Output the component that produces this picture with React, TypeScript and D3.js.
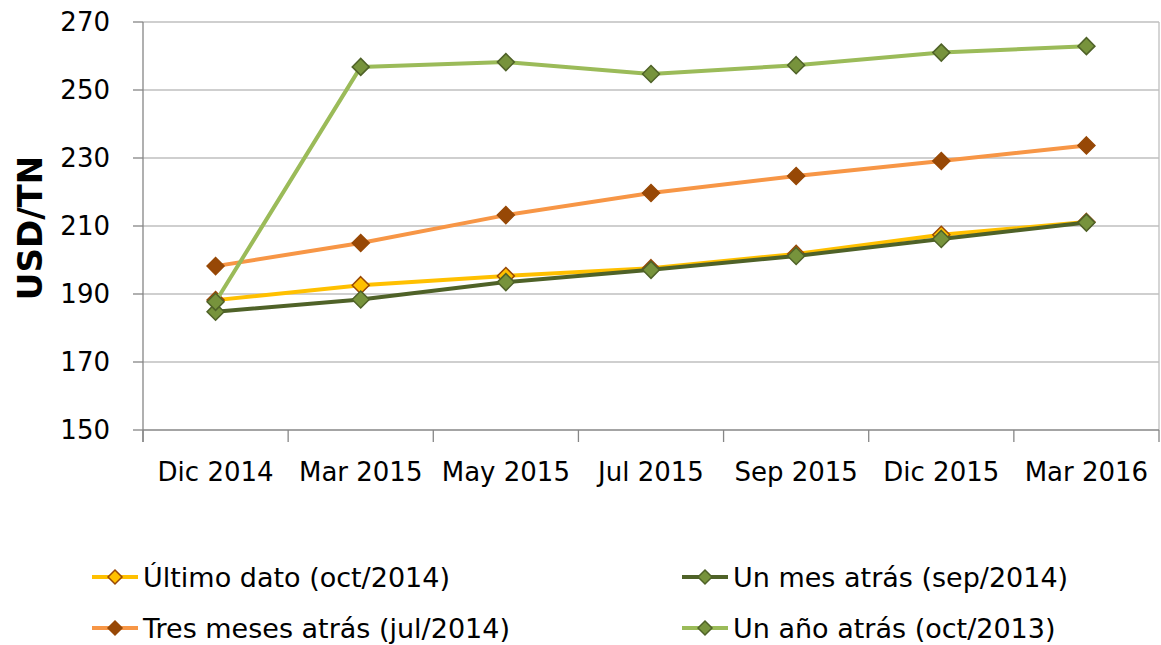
import * as d3 from "d3";

const categories = ["Dic 2014", "Mar 2015", "May 2015", "Jul 2015", "Sep 2015", "Dic 2015", "Mar 2016"];
const yTicks = [150, 170, 190, 210, 230, 250, 270];

const ultimoDato = [188.2, 192.6, 195.3, 197.6, 201.8, 207.4, 211.2];
const unMesAtras = [184.8, 188.4, 193.5, 197.1, 201.2, 206.2, 211.0];
const tresMesesAtras = [198.2, 205.0, 213.2, 219.7, 224.7, 229.1, 233.7];
const unAnoAtras = [187.7, 256.8, 258.2, 254.7, 257.3, 261.0, 262.9];

const series = [
  { name: "Último dato (oct/2014)", values: ultimoDato, line: "#FFC000", fill: "#FFC000", stroke: "#984807" },
  { name: "Un mes atrás (sep/2014)", values: unMesAtras, line: "#4F6228", fill: "#77933C", stroke: "#4F6228" },
  { name: "Tres meses atrás (jul/2014)", values: tresMesesAtras, line: "#F79646", fill: "#974806", stroke: "#974806" },
  { name: "Un año atrás (oct/2013)", values: unAnoAtras, line: "#9BBB59", fill: "#77933C", stroke: "#4F6228" },
];

const W = 1161, H = 645;
const left = 143, right = 1159, top = 22, bottom = 430;
const font = "DejaVu Sans";

function diamond(cx: number, cy: number, r: number) {
  return `M${cx},${cy - r}L${cx + r},${cy}L${cx},${cy + r}L${cx - r},${cy}Z`;
}

export default function App() {
  const x = d3.scaleBand().domain(categories).range([left, right]);
  const y = d3.scaleLinear().domain([150, 270]).range([bottom, top]);
  const cx = (i: number) => (x(categories[i]) as number) + x.bandwidth() / 2;
  const line = d3.line<number>().x((_, i) => cx(i)).y((d) => y(d));
  const bounds = categories.map((c) => x(c) as number).concat([right]);

  const legendPos = [
    { lx: 92, ly: 577 },
    { lx: 682, ly: 577 },
    { lx: 92, ly: 628 },
    { lx: 682, ly: 628 },
  ];

  return (
    <svg width={W} height={H} style={{ position: "absolute", left: 0, top: 0, background: "#fff" }} fontFamily={font}>
      {yTicks.map((t) => (
        <g key={t}>
          {t > 150 && <line x1={left} x2={right} y1={y(t)} y2={y(t)} stroke="#BFBFBF" strokeWidth={1.3} />}
          <line x1={left - 10} x2={left} y1={y(t)} y2={y(t)} stroke="#868686" strokeWidth={1.3} />
          <text x={110} y={y(t)} dy="0.36em" textAnchor="end" fontSize={26} fill="#000">{t}</text>
        </g>
      ))}
      <line x1={right} x2={right} y1={top} y2={bottom} stroke="#BFBFBF" strokeWidth={1.3} />
      <line x1={left} x2={left} y1={top} y2={bottom + 12} stroke="#868686" strokeWidth={1.3} />
      <line x1={left} x2={right} y1={bottom} y2={bottom} stroke="#868686" strokeWidth={1.3} />
      {bounds.map((b, i) => (
        <line key={i} x1={b} x2={b} y1={bottom} y2={bottom + 12} stroke="#868686" strokeWidth={1.3} />
      ))}
      {categories.map((c, i) => (
        <text key={c} x={cx(i)} y={472} dy="0.36em" textAnchor="middle" fontSize={26} fill="#000">{c}</text>
      ))}
      <text transform={`translate(30,${(top + bottom) / 2 + 2}) rotate(-90)`} textAnchor="middle" dy="0.36em"
        fontSize={34} fontWeight="bold" fill="#000">USD/TN</text>

      {series.map((s) => (
        <g key={s.name}>
          <path d={line(s.values) as string} fill="none" stroke={s.line} strokeWidth={4} strokeLinejoin="round" />
          {s.values.map((v, i) => (
            <path key={i} d={diamond(cx(i), y(v), 8.5)} fill={s.fill} stroke={s.stroke} strokeWidth={1.5} />
          ))}
        </g>
      ))}

      {series.map((s, i) => {
        const p = legendPos[i];
        return (
          <g key={s.name}>
            <line x1={p.lx} x2={p.lx + 46} y1={p.ly} y2={p.ly} stroke={s.line} strokeWidth={4} />
            <path d={diamond(p.lx + 23, p.ly, 7)} fill={s.fill} stroke={s.stroke} strokeWidth={1.5} />
            <text x={p.lx + 51} y={p.ly} dy="0.36em" fontSize={27} fill="#000">{s.name}</text>
          </g>
        );
      })}
    </svg>
  );
}
